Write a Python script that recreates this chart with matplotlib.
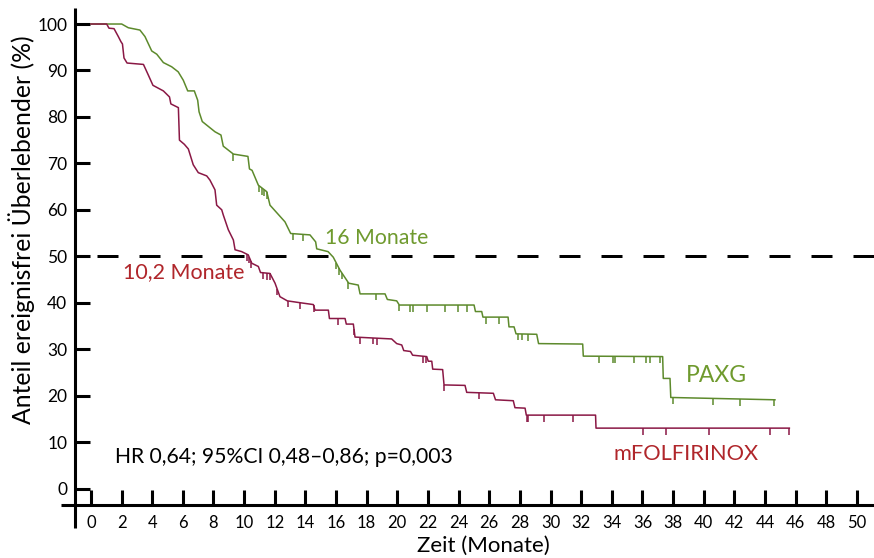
import matplotlib
matplotlib.use("Agg")
import matplotlib.pyplot as plt
import numpy as np
from matplotlib import font_manager

# ---------------------- data ----------------------

paxg_t = [0, 2.01, 2.44, 3.20, 3.53, 3.97, 4.30, 4.73, 5.27, 5.70, 6.03, 6.32, 6.75,
          6.97, 7.06, 7.27, 8.10, 8.49, 8.64, 9.30, 10.25, 10.35, 10.52, 10.93, 11.48,
          11.69, 12.67, 13.04, 14.30, 14.67, 14.74, 15.48, 15.82, 16.26, 16.83, 17.45,
          17.57, 19.20, 19.35, 19.96, 20.13, 25.01, 25.10, 25.51, 25.59, 27.23, 27.29,
          27.62, 27.75, 29.10, 29.22, 32.10, 32.14, 37.32, 37.36, 37.80, 37.85, 44.65]
paxg_s = [100, 100, 99.2, 98.7, 97.3, 94.2, 93.5, 91.7, 90.8, 89.7, 87.9, 85.6, 85.6,
          83.6, 81.1, 79.0, 76.8, 76.1, 73.7, 72.0, 71.5, 68.8, 68.5, 65.3, 63.9,
          61.0, 57.4, 54.9, 54.6, 53.1, 51.6, 51.0, 49.8, 47.0, 44.2, 43.8,
          41.9, 41.9, 40.7, 40.4, 39.5, 39.5, 38.1, 38.1, 36.9, 36.9, 34.8,
          34.8, 33.3, 33.2, 31.2, 31.1, 28.5, 28.4, 23.7, 23.7, 19.6, 19.1]
paxg_cens = [9.30, 10.97, 11.17, 11.33, 11.49, 13.21, 13.86, 16.0, 16.19, 16.37, 16.78,
             18.61, 20.11, 20.83, 21.0, 21.92, 23.11, 23.96, 24.53, 25.76, 26.67,
             27.90, 28.12, 28.55, 33.19, 34.10, 34.21, 35.47, 36.21, 36.49, 37.14,
             37.98, 40.63, 42.37, 44.59]

mfol_t = [0, 1.03, 1.18, 1.51, 1.79, 1.96, 2.06, 2.16, 2.36, 3.43, 3.75, 4.05, 4.73,
          5.13, 5.22, 5.71, 5.78, 6.10, 6.36, 6.68, 7.01, 7.56, 7.77, 8.10, 8.21, 8.54,
          8.64, 8.97, 9.30, 9.41, 9.84, 10.27, 10.50, 10.93, 11.07, 11.69, 12.02, 12.34,
          12.82, 13.65, 14.52, 14.63, 15.50, 15.57, 16.59, 16.67, 17.13, 17.24, 19.63,
          19.96, 20.29, 20.42, 20.86, 21.00, 21.92, 22.02, 22.25, 22.31, 22.96, 23.05,
          24.42, 24.53, 26.27, 26.41, 27.57, 27.68, 28.34, 28.42, 32.94, 32.97, 45.59]
mfol_s = [100, 100, 99.1, 99.0, 97.3, 96.2, 95.7, 92.7, 91.6, 91.3, 89.0, 86.8, 85.6,
          84.3, 82.8, 82.0, 75.0, 74.1, 73.1, 69.7, 68.0, 67.3, 66.4, 64.3, 61.0, 60.0,
          58.9, 55.7, 53.5, 51.4, 51.0, 50.3, 48.5, 47.8, 46.5, 46.3, 44.2, 41.3,
          40.4, 40.0, 39.6, 38.4, 38.4, 36.6, 36.6, 35.4, 35.4, 32.6, 32.2,
          31.2, 30.9, 29.7, 29.5, 28.7, 28.4, 27.4, 27.4, 25.7, 25.6, 22.3,
          22.2, 20.7, 20.5, 19.1, 18.9, 17.4, 17.3, 15.8, 15.8, 13.0, 13.0]
mfol_cens = [10.19, 10.32, 10.45, 11.23, 11.48, 11.69, 12.15, 12.87, 13.65, 14.53,
             16.15, 17.17, 17.56, 18.39, 18.69, 21.66, 21.87, 23.05, 25.35, 28.45,
             28.55, 29.58, 31.45, 36.06, 37.54, 40.37, 44.33, 45.59]

x_ticks = list(range(0, 51, 2))
y_ticks = list(range(0, 101, 10))

GREEN = "#5d8a2c"
GREEN_TXT = "#6f9a2e"
RED = "#8a1845"
RED_TXT = "#b0262b"

names = {f.name for f in font_manager.fontManager.ttflist}
BASE = "Lato"
NARROW = "Liberation Sans Narrow" if "Liberation Sans Narrow" in names else BASE
plt.rcParams["font.family"] = [BASE, "DejaVu Sans"]

# ---------------------- figure ----------------------

fig = plt.figure(figsize=(8.74, 5.58), dpi=100)
ax = fig.add_axes([0, 0, 1, 1])
ax.set_xlim(-5.933, 51.115)
ax.set_ylim(-14.96, 105.17)
ax.patch.set_visible(False)

for s in ("top", "right"):
    ax.spines[s].set_visible(False)
ax.spines["left"].set_position(("data", -1.038))
ax.spines["left"].set_bounds(-8.5, 103.4)
ax.spines["bottom"].set_position(("data", -3.55))
ax.spines["bottom"].set_bounds(-1.95, 51.2)
for s in ("left", "bottom"):
    ax.spines[s].set_linewidth(2.2)
    ax.spines[s].set_capstyle("butt")

ax.set_xticks(x_ticks)
ax.set_yticks(y_ticks)
ax.tick_params(axis="both", direction="in", length=10.8, width=2.2, color="black")
ax.tick_params(axis="y", pad=5.5, labelsize=12.5)
ax.tick_params(axis="x", pad=7, labelsize=12)
for lab in ax.get_xticklabels():
    lab.set_family(NARROW)

# median line
ax.plot([0.4, 51.2], [50, 50], color="black", lw=2.16, ls=(0, (7, 7)), zorder=3)

# curves
ax.plot(paxg_t, paxg_s, color=GREEN, lw=1.1, zorder=2)
ax.plot(mfol_t, mfol_s, color=RED, lw=1.1, zorder=2)

# censor marks
for cens, tt, ss, col in ((paxg_cens, paxg_t, paxg_s, GREEN), (mfol_cens, mfol_t, mfol_s, RED)):
    cy = np.interp(cens, tt, ss)
    ax.vlines(cens, cy - 1.4, cy, color=col, lw=1.1, zorder=2)

# annotations
ax.text(15.28, 53.9, "16 Monate", color=GREEN_TXT, fontsize=15.3, ha="left", va="center")
ax.text(2.09, 46.6, "10,2 Monate", color=RED_TXT, fontsize=15.5, ha="left", va="center")
ax.text(38.85, 24.4, "PAXG", color=GREEN_TXT, fontsize=16.5, ha="left", va="center")
ax.text(34.08, 7.4, "mFOLFIRINOX", color=RED_TXT, fontsize=15.7, ha="left", va="center")
ax.text(1.57, 6.8, "HR 0,64; 95%CI 0,48\u20130,86; p=0,003", color="black",
        fontsize=15.2, ha="left", va="center")

ax.text(-4.55, 55.8, "Anteil ereignisfrei \u00dcberlebender (%)", rotation=90,
        fontsize=17.8, ha="center", va="center")
ax.text(25.6, -12.4, "Zeit (Monate)", fontsize=16, ha="center", va="center")

fig.savefig("out.png", dpi=100)
